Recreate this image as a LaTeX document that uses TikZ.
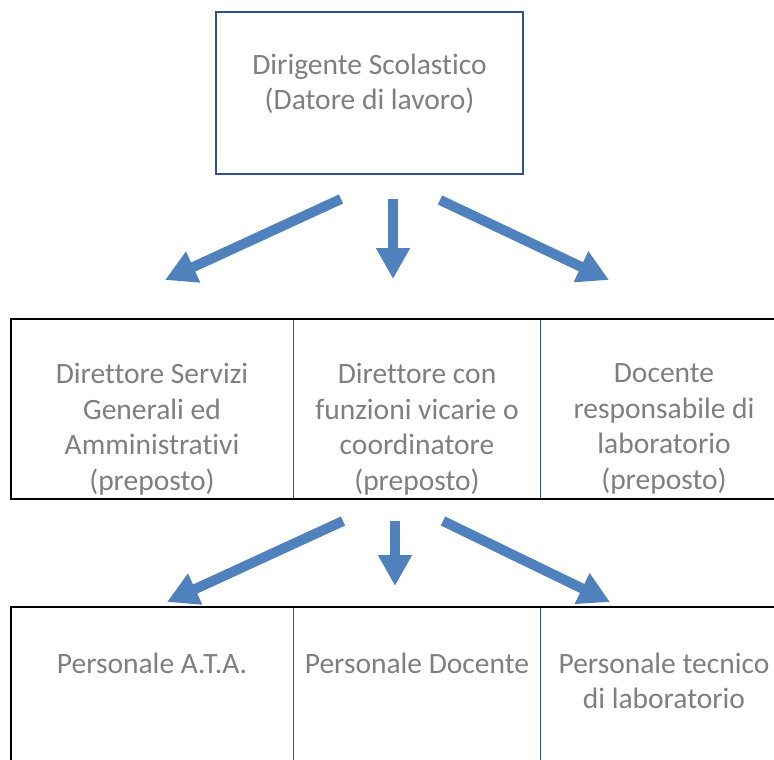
\documentclass[tikz,border=0pt]{standalone}
\usepackage{fontspec}
\setmainfont{Carlito}[Ligatures=NoCommon]
\usepackage{tikz}
\usetikzlibrary{arrows.meta}

\definecolor{txtgray}{RGB}{127,127,127}
\definecolor{arrowblue}{RGB}{79,129,189}
\definecolor{lineblue}{RGB}{47,82,143}

\tikzset{
  cell/.style={text=txtgray, align=center, font=\fontsize{29.5}{35.5}\selectfont, inner sep=0pt},
  bigarrow/.style={draw=arrowblue, line width=10pt, -{Triangle[width=32pt,length=31pt]}},
  rule/.style={draw=black, line width=2.5pt},
  sep/.style={draw=lineblue, line width=0.9pt}
}

\begin{document}
\begin{tikzpicture}[x=1pt, y=-1pt]
\useasboundingbox[fill=white] (0,0) rectangle (774,760);

% dirigente
\node[draw=lineblue, line width=1.3pt, minimum width=307pt, minimum height=162pt] (boss) at (369.5,93) {};
\node[cell] (bosstxt) at (369.5,84) {Dirigente Scolastico\\(Datore di lavoro)};

% preposti
\draw[rule] (10,319) -- (774,319);
\draw[rule] (10,499) -- (774,499);
\draw[rule] (11,318) -- (11,500);
\draw[sep] (293,320) -- (293,498);
\draw[sep] (540,320) -- (540,498);
\node[cell] (dsga) at (152,429) {Direttore Servizi\\Generali ed\\Amministrativi\\(preposto)};
\node[cell] (vic) at (417,429) {Direttore con\\funzioni vicarie o\\coordinatore\\(preposto)};
\node[cell] (lab) at (664,429) {Docente\\responsabile di\\laboratorio\\(preposto)};

% personale
\draw[rule] (10,607) -- (774,607);
\draw[rule] (11,606) -- (11,760);
\draw[sep] (293,608) -- (293,760);
\draw[sep] (540,608) -- (540,760);
\node[cell] (ata) at (152,663) {Personale A.T.A.};
\node[cell] (doc) at (417,663) {Personale Docente};
\node[cell] (tec) at (664,681) {Personale tecnico\\di laboratorio};

% frecce
\coordinate (b1) at (341,199);
\coordinate (b2) at (393,199);
\coordinate (b3) at (440,200);
\coordinate (p1) at (165,280);
\coordinate (p2) at (393,279);
\coordinate (p3) at (609,280);
\draw[bigarrow] (b1) -- (p1);
\draw[bigarrow] (b2) -- (p2);
\draw[bigarrow] (b3) -- (p3);

\coordinate (m1) at (343,521);
\coordinate (m2) at (395,521);
\coordinate (m3) at (443,521);
\coordinate (q1) at (167,602);
\coordinate (q2) at (395,586);
\coordinate (q3) at (610,602);
\draw[bigarrow] (m1) -- (q1);
\draw[bigarrow] (m2) -- (q2);
\draw[bigarrow] (m3) -- (q3);
\end{tikzpicture}
\end{document}
